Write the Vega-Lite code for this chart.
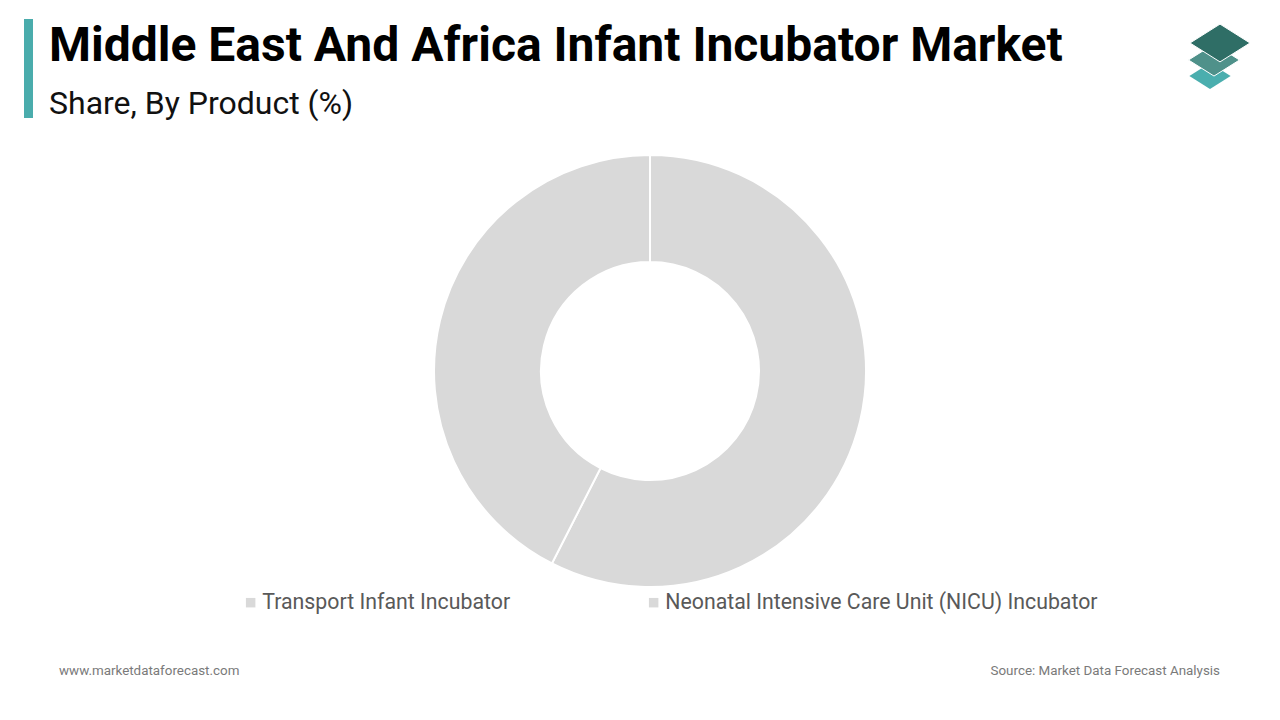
{
  "$schema": "https://vega.github.io/schema/vega-lite/v6.json",
  "autosize": "none",
  "width": 1260,
  "height": 698,
  "padding": {"left": 20, "top": 22, "right": 0, "bottom": 0},
  "background": "white",
  "config": {"view": {"stroke": null}, "font": "Roboto"},
  "title": {
    "text": "Middle East And Africa Infant Incubator Market",
    "subtitle": "Share, By Product (%)",
    "anchor": "start",
    "frame": "group",
    "orient": "top",
    "offset": 0,
    "dx": 29,
    "dy": 101,
    "font": "Roboto",
    "fontSize": 48,
    "fontWeight": "bold",
    "color": "#000000",
    "subtitleFont": "Roboto",
    "subtitleFontSize": 32,
    "subtitleColor": "#111111",
    "subtitlePadding": 18
  },
  "layer": [
    {
      "data": {"values": [
        {"product": "Transport Infant Incubator", "share": 57.5, "idx": 1},
        {"product": "Neonatal Intensive Care Unit (NICU) Incubator", "share": 42.5, "idx": 2}
      ]},
      "mark": {"type": "arc", "outerRadius": 216, "innerRadius": 109, "stroke": "white", "strokeWidth": 2},
      "encoding": {
        "theta": {"field": "share", "type": "quantitative", "stack": true},
        "order": {"field": "idx", "type": "quantitative"},
        "color": {
          "field": "product",
          "type": "nominal",
          "sort": ["Transport Infant Incubator", "Neonatal Intensive Care Unit (NICU) Incubator"],
          "scale": {"domain": ["Transport Infant Incubator", "Neonatal Intensive Care Unit (NICU) Incubator"], "range": ["#d9d9d9", "#d9d9d9"]},
          "legend": {
            "title": null,
            "orient": "none",
            "direction": "horizontal",
            "legendX": 220,
            "legendY": 570,
            "symbolType": "square",
            "symbolSize": 90,
            "symbolStrokeWidth": 0,
            "labelFont": "Roboto",
            "labelFontSize": 21.3,
            "labelColor": "#595959",
            "labelLimit": 600,
            "columnPadding": 132,
            "labelOffset": 1
          }
        }
      }
    },
    {
      "data": {"values": [{"label": "www.marketdataforecast.com"}]},
      "mark": {"type": "text", "font": "Roboto", "fontSize": 13.4, "color": "#7a7a7a", "align": "left", "baseline": "middle"},
      "encoding": {"text": {"field": "label"}, "x": {"value": 39}, "y": {"value": 649}}
    },
    {
      "data": {"values": [{"label": "Source: Market Data Forecast Analysis"}]},
      "mark": {"type": "text", "font": "Roboto", "fontSize": 13.4, "color": "#7a7a7a", "align": "right", "baseline": "middle"},
      "encoding": {"text": {"field": "label"}, "x": {"value": 1200}, "y": {"value": 649}}
    },
    {
      "data": {"values": [{"part": "accent"}]},
      "mark": {"type": "rect", "color": "#4aacac"},
      "encoding": {"x": {"value": 4}, "x2": {"value": 13}, "y": {"value": -3}, "y2": {"value": 96}}
    },
    {
      "data": {"values": [{"part": "logo3"}]},
      "mark": {"type": "point", "filled": true, "opacity": 1, "shape": "M-1,0L0,-0.63L1,0L0,0.63Z", "size": 1700, "color": "#4aaeae"},
      "encoding": {"x": {"value": 1190}, "y": {"value": 54}}
    },
    {
      "data": {"values": [{"part": "logo2"}]},
      "mark": {"type": "point", "filled": true, "opacity": 1, "shape": "M-1,0L0,-0.63L1,0L0,0.63Z", "size": 2600, "color": "#4f918a", "stroke": "white", "strokeWidth": 1},
      "encoding": {"x": {"value": 1194}, "y": {"value": 38}}
    },
    {
      "data": {"values": [{"part": "logo1"}]},
      "mark": {"type": "point", "filled": true, "opacity": 1, "shape": "M-1,0L0,-0.63L1,0L0,0.63Z", "size": 3600, "color": "#2f6e66", "stroke": "white", "strokeWidth": 1},
      "encoding": {"x": {"value": 1200}, "y": {"value": 21}}
    }
  ]
}
